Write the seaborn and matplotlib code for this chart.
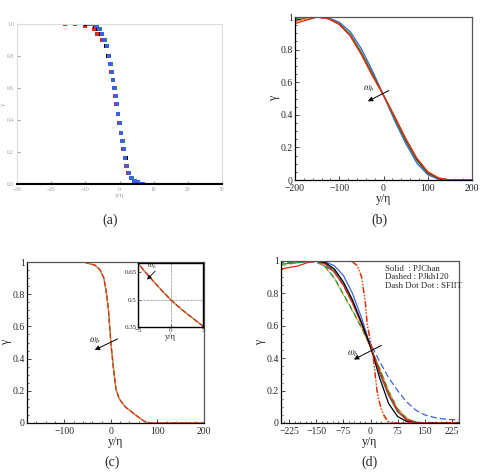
import numpy as np
import pandas as pd
import seaborn as sns
import matplotlib.pyplot as plt
from matplotlib.ticker import AutoMinorLocator, MultipleLocator

sns.set_style("ticks")
plt.rcParams['font.family'] = ['Liberation Serif', 'DejaVu Serif']
plt.rcParams['mathtext.fontset'] = 'stix'

# ---- panel (a): scattered symbols ----
a_gamma = [1.0, 1.0, 0.99, 0.97, 0.94, 0.90, 0.86, 0.80, 0.75, 0.70, 0.65, 0.60, 0.55,
           0.50, 0.44, 0.38, 0.32, 0.27, 0.22, 0.16, 0.11, 0.07, 0.04, 0.02, 0.01, 0.0]
a_blue = [-9.0, -7.8, -6.9, -6.0, -5.1, -4.4, -3.8, -3.2, -2.7, -2.3, -1.9, -1.5, -1.1,
          -0.8, -0.4, 0.0, 0.4, 0.8, 1.2, 1.6, 2.1, 2.7, 3.4, 4.2, 5.2, 6.5]
a_green = [-8.5, -7.4, -6.6, -5.8, -5.0, -4.3, -3.7, -3.1, -2.6, -2.2, -1.8, -1.4, -1.0,
           -0.7, -0.3, 0.1, 0.5, 0.9, 1.3, 1.7, 2.2, 2.9, 3.6, 4.4, 5.4, 6.8]
a_red = [-16.0, -13.0, -10.0, -7.5, -6.5, -5.0, -4.0, -3.3, -2.8, -2.4, -1.9, -1.6, -1.2,
         -0.9, -0.5, -0.1, 0.3, 0.7, 1.1, 1.5, 2.0, 2.6, 3.3, 4.1, 5.0, 6.2]
a_black = [-9.8, -8.4, -7.2, -6.3, -5.3, -4.6, -3.9, -3.3, -2.8, -2.3, -1.9, -1.5, -1.1,
           -0.7, -0.3, 0.1, 0.5, 0.9, 1.3, 1.8, 2.3, 2.9, 3.6, 4.5, 5.5, 6.9]
a_base_x = [-30, -20, -10, 0, 10, 20, 30]
a_base_g = [0, 0, 0, 0, 0, 0, 0]

# ---- panel (b) ----
b_y = [-200, -175, -150, -125, -100, -75, -50, -25, 0, 25, 50, 75, 100, 125, 150, 200]
b_red = [0.96, 0.98, 1.0, 0.99, 0.955, 0.885, 0.77, 0.64, 0.52, 0.39, 0.255, 0.135, 0.05, 0.012, 0.0, 0.0]
b_orange = [0.97, 0.99, 1.0, 0.99, 0.955, 0.885, 0.77, 0.64, 0.52, 0.39, 0.255, 0.135, 0.05, 0.012, 0.0, 0.0]
b_black = [0.98, 0.99, 1.0, 0.99, 0.955, 0.885, 0.772, 0.643, 0.52, 0.388, 0.25, 0.13, 0.046, 0.01, 0.0, 0.0]
b_green = [0.99, 1.0, 1.0, 0.993, 0.96, 0.895, 0.785, 0.655, 0.52, 0.378, 0.24, 0.12, 0.04, 0.008, 0.0, 0.0]
b_blue = [1.0, 1.0, 1.0, 0.996, 0.968, 0.91, 0.805, 0.67, 0.52, 0.365, 0.225, 0.105, 0.032, 0.004, 0.0, 0.0]

# ---- panel (c) ----
c_y = [-146, -100, -56, -34, -23, -15, -9, -5, 0, 5, 11, 18, 31, 53, 67, 78, 100, 200]
c_gamma = [1.0, 1.0, 0.998, 0.98, 0.95, 0.9, 0.8, 0.7, 0.5, 0.355, 0.21, 0.15, 0.1, 0.05, 0.02, 0.0, 0.0, 0.0]
ci_y = [-5, -4, -3, -2, -1, 0, 1, 2, 3, 4, 5]
ci_gamma = [0.70, 0.655, 0.615, 0.575, 0.537, 0.5, 0.468, 0.438, 0.41, 0.382, 0.355]

# ---- panel (d) ----
d_y = [-250, -225, -200, -175, -150, -125, -100, -75, -50, -25, 0, 25, 50, 75, 100,
       125, 150, 175, 200, 225, 250]
d_black = [1.0, 1.0, 1.0, 1.0, 1.0, 0.99, 0.95, 0.87, 0.76, 0.62, 0.47, 0.28, 0.12, 0.04, 0.01,
           0.0, 0.0, 0.0, 0.0, 0.0, 0.0]
d_blue = [1.0, 1.0, 1.0, 1.0, 1.0, 0.995, 0.97, 0.91, 0.80, 0.65, 0.47, 0.31, 0.17, 0.07, 0.02,
          0.004, 0.0, 0.0, 0.0, 0.0, 0.0]
d_red = [0.95, 0.96, 0.97, 0.99, 1.0, 0.98, 0.93, 0.85, 0.74, 0.61, 0.47, 0.32, 0.18, 0.075, 0.02,
         0.004, 0.0, 0.0, 0.0, 0.0, 0.0]
d_green = [0.98, 0.985, 0.99, 0.995, 1.0, 0.985, 0.94, 0.86, 0.75, 0.615, 0.47, 0.315, 0.175, 0.07,
           0.02, 0.003, 0.0, 0.0, 0.0, 0.0, 0.0]
d_orange_dash = [0.97, 0.98, 0.99, 0.995, 1.0, 0.96, 0.89, 0.79, 0.69, 0.585, 0.47, 0.34, 0.2, 0.09,
                 0.03, 0.005, 0.0, 0.0, 0.0, 0.0, 0.0]
d_green_dash = [0.99, 0.99, 0.995, 1.0, 1.0, 0.965, 0.895, 0.795, 0.695, 0.59, 0.47, 0.335, 0.195,
                0.085, 0.028, 0.004, 0.0, 0.0, 0.0, 0.0, 0.0]
d_blue_dash = [1.0, 1.0, 1.0, 1.0, 0.99, 0.97, 0.93, 0.85, 0.74, 0.62, 0.49, 0.38, 0.28, 0.2, 0.13,
               0.08, 0.05, 0.035, 0.025, 0.02, 0.02]
d_ys = [-250, -150, -80, -50, -37, -25, -15, -9, 0, 5, 12, 18, 28, 37, 47, 55, 250]
d_red_ddd = [1.0, 1.0, 1.0, 0.995, 0.97, 0.9, 0.75, 0.6, 0.5, 0.45, 0.32, 0.2, 0.1, 0.05, 0.015, 0.0, 0.0]
d_orange_ddd = [1.0, 1.0, 1.0, 0.996, 0.975, 0.91, 0.77, 0.62, 0.51, 0.45, 0.31, 0.19, 0.09, 0.04, 0.01, 0.0, 0.0]

gamma_ticks = [0, 0.2, 0.4, 0.6, 0.8, 1.0]
gamma_labels = ['0', '0.2', '0.4', '0.6', '0.8', '1']

RED, ORANGE, GREEN, BLUE, CYAN = '#e5231b', '#f29b1d', '#1f9a3a', '#3c5fe0', '#3aa6c8'
DDD = (0, (5, 1.5, 1, 1.5, 1, 1.5))

fig = plt.figure(figsize=(4.84, 4.75), dpi=100)


def W(px0, py0, px1, py1):
    return [px0 / 484, 1 - py1 / 475, (px1 - px0) / 484, (py1 - py0) / 475]


def style_axes(ax, fs=7):
    ax.set_yticks(gamma_ticks)
    ax.set_yticklabels(gamma_labels)
    ax.set_ylim(0, 1)
    ax.yaxis.set_minor_locator(AutoMinorLocator(4))
    ax.tick_params(direction='in', labelsize=fs, length=3, width=0.6, pad=1.5,
                   top=False, right=False)
    ax.tick_params(axis='x', pad=3)
    ax.tick_params(which='minor', direction='in', length=1.6, width=0.5, top=False, right=False)
    for s in ax.spines.values():
        s.set_linewidth(0.9)
        s.set_color('#555555')
    ax.spines['left'].set_color('black')
    ax.spines['bottom'].set_color('black')
    ax.set_xlabel('y/η', fontsize=8.5, labelpad=0)
    ax.set_ylabel('γ', fontsize=8.5, labelpad=0.5)


def line(ax, x, y, color, ls='-', lw=0.9):
    sns.lineplot(x=x, y=y, ax=ax, color=color, linestyle=ls, linewidth=lw,
                 estimator=None, sort=False, legend=False)


def arrow(ax, start, end, label_xy, fs=7):
    ax.annotate('', xy=end, xytext=start,
                arrowprops=dict(arrowstyle='-|>', color='black', lw=0.7, mutation_scale=7))
    ax.text(label_xy[0], label_xy[1], r'$\omega_b$', fontsize=fs, ha='center', va='center')


# (a)
ax = fig.add_axes(W(17, 24, 222, 184))
for xs, c in [(a_red, RED), (a_black, 'black'), (a_green, GREEN), (a_blue, BLUE)]:
    sns.scatterplot(x=xs, y=a_gamma, ax=ax, color=c, marker='s', s=5, linewidth=0, legend=False)
line(ax, a_base_x, a_base_g, 'black', lw=2.2)
ax.set_xlim(-30, 30)
ax.set_ylim(0, 1.0)
ax.set_xticks([-30, -20, -10, 0, 10, 20, 30])
ax.set_yticks([0, 0.2, 0.4, 0.6, 0.8, 1.0])
ax.set_yticklabels(['0.0', '0.2', '0.4', '0.6', '0.8', '1.0'])
ax.tick_params(labelsize=4, colors='#9a9a9a', length=2, direction='in', pad=2)
for s in ax.spines.values():
    s.set_color('#dcdcdc')
    s.set_linewidth(0.8)
ax.spines['bottom'].set_color('black')
ax.spines['bottom'].set_linewidth(1.5)
ax.set_xlabel('y/η', fontsize=5, color='#9a9a9a', labelpad=1)
ax.set_ylabel('γ', fontsize=5, color='#9a9a9a', labelpad=1)
fig.text(110 / 484, 1 - 220 / 475, '(a)', fontsize=10, ha='center', va='center')

# (b)
ax = fig.add_axes(W(295, 17, 472, 180))
for ys, c in [(b_blue, BLUE), (b_green, GREEN), (b_black, 'black'), (b_orange, ORANGE), (b_red, RED)]:
    line(ax, b_y, ys, c)
ax.set_xlim(-200, 200)
ax.set_xticks([-200, -100, 0, 100, 200])
ax.xaxis.set_minor_locator(AutoMinorLocator(5))
style_axes(ax)
arrow(ax, (18, 0.557), (-41, 0.475), (-33, 0.56))
fig.text(379 / 484, 1 - 220 / 475, '(b)', fontsize=10, ha='center', va='center')

# (c)
ax = fig.add_axes(W(27, 262, 204, 423))
for c, ls in [(CYAN, (0, (4, 2))), (GREEN, (2, (4, 2))), (ORANGE, (1, (4, 2))), (RED, (3, (4, 2)))]:
    line(ax, c_y, c_gamma, c, ls=ls)
ax.set_xlim(-180, 200)
ax.set_xticks([-100, 0, 100, 200])
ax.xaxis.set_minor_locator(AutoMinorLocator(5))
style_axes(ax)
arrow(ax, (20, 0.53), (-40, 0.446), (-34, 0.51))
fig.text(112 / 484, 1 - 462 / 475, '(c)', fontsize=10, ha='center', va='center')

# inset of (c)
ax = fig.add_axes(W(138, 263, 203, 327))
ax.axvline(0, color='#555555', lw=0.5, ls=(0, (1, 1)))
ax.axhline(0.5, color='#555555', lw=0.5, ls=(0, (1, 1)))
for c, ls in [(CYAN, (0, (4, 2))), (GREEN, (2, (4, 2))), (ORANGE, (1, (4, 2))), (RED, (3, (4, 2)))]:
    line(ax, ci_y, ci_gamma, c, ls=ls)
ax.set_xlim(-5, 5)
ax.set_ylim(0.35, 0.70)
ax.set_xticks([-5, 0, 5])
ax.set_yticks([0.35, 0.5, 0.65])
ax.set_yticklabels(['0.35', '0.5', '0.65'])
ax.tick_params(direction='in', labelsize=5, length=2, width=0.5, pad=1)
for s in ax.spines.values():
    s.set_color('black')
    s.set_linewidth(1.0)
ax.set_xlabel('y/η', fontsize=6, labelpad=0)
ax.set_facecolor('white')
ax.annotate('', xy=(-3.9, 0.598), xytext=(-2.06, 0.667),
            arrowprops=dict(arrowstyle='-|>', color='black', lw=0.6, mutation_scale=6))
ax.text(-2.9, 0.68, r'$\omega_b$', fontsize=5.5, ha='center', va='center')

# (d)
ax = fig.add_axes(W(281, 261, 459, 423))
line(ax, d_y, d_blue_dash, BLUE, ls=(0, (5, 2.5)))
line(ax, d_y, d_orange_dash, ORANGE, ls=(0, (5, 2.5)))
line(ax, d_y, d_green_dash, GREEN, ls=(2, (5, 2.5)))
line(ax, d_y, d_blue, BLUE)
line(ax, d_y, d_green, GREEN)
line(ax, d_y, d_red, RED)
line(ax, d_y, d_black, 'black')
line(ax, d_ys, d_orange_ddd, ORANGE, ls=DDD)
line(ax, d_ys, d_red_ddd, RED, ls=DDD)
ax.set_xlim(-248, 245)
ax.set_xticks([-225, -150, -75, 0, 75, 150, 225])
ax.xaxis.set_minor_locator(MultipleLocator(15))
style_axes(ax)
arrow(ax, (37, 0.487), (-53, 0.384), (-48, 0.43))
ax.text(0.585, 0.975, 'Solid  : PJChan\nDashed : PJkh120\nDash Dot Dot : SFIIT',
        transform=ax.transAxes, fontsize=6.3, va='top', ha='left', linespacing=1.05)
fig.text(370 / 484, 1 - 462 / 475, '(d)', fontsize=10, ha='center', va='center')

fig.savefig('out.png', dpi=100)
